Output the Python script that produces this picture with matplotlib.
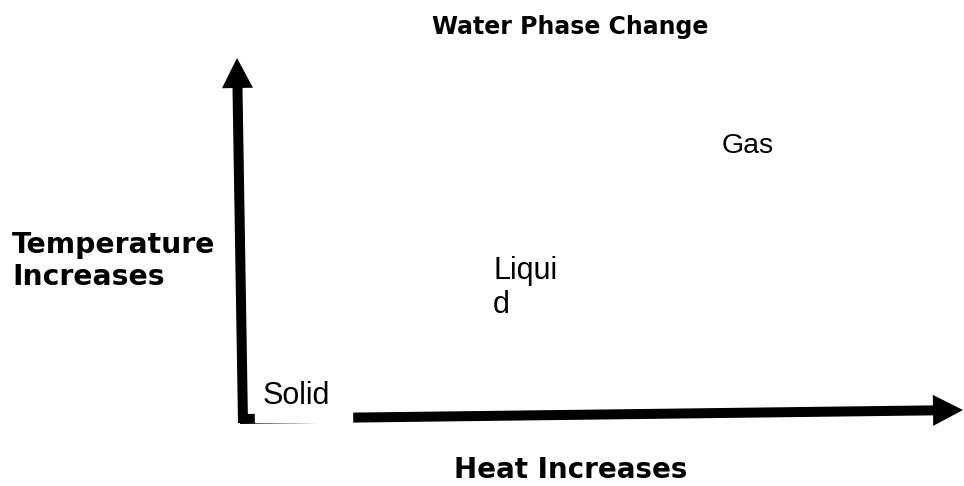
import matplotlib
matplotlib.use("Agg")
import matplotlib.pyplot as plt
from matplotlib.patches import FancyArrow, Rectangle

W, H = 964, 486
title = "Water Phase Change"
x_label = "Heat Increases"
y_label = "Temperature\nIncreases"
phases = ["Solid", "Liqui\nd", "Gas"]
phase_xy = [(263, 396), (493, 288), (722, 146)]
phase_size = [22, 22, 20.5]

# arrow geometry (pixel coordinates)
y_arrow = [(243, 423), (237, 58)]
x_arrow = [(240, 419), (963, 410)]

fig = plt.figure(figsize=(W / 100, H / 100), dpi=100)
ax = fig.add_axes([0, 0, 1, 1])
ax.set_xlim(0, W)
ax.set_ylim(H, 0)
ax.axis("off")

for (x0, y0), (x1, y1) in (y_arrow, x_arrow):
    ax.add_patch(FancyArrow(x0, y0, x1 - x0, y1 - y0, width=10, head_width=31,
                            head_length=30, length_includes_head=True,
                            color="black", lw=0))

ax.add_patch(Rectangle((255, 378), 97, 44, color="white", zorder=3))

bold = dict(family="DejaVu Sans", weight="bold", color="black")
ax.text(570, 27, title, ha="center", va="center", fontsize=17, **bold)
ax.text(571, 470, x_label, ha="center", va="center", fontsize=20, **bold)
ax.text(12, 261, y_label, ha="left", va="center", fontsize=20.3,
        linespacing=1.2, **bold)

for name, (px, py), fs in zip(phases, phase_xy, phase_size):
    ax.text(px, py, name, ha="left", va="center", fontsize=fs,
            family="Liberation Sans", linespacing=1.2, color="black", zorder=4)

fig.savefig("out.png", dpi=100)
